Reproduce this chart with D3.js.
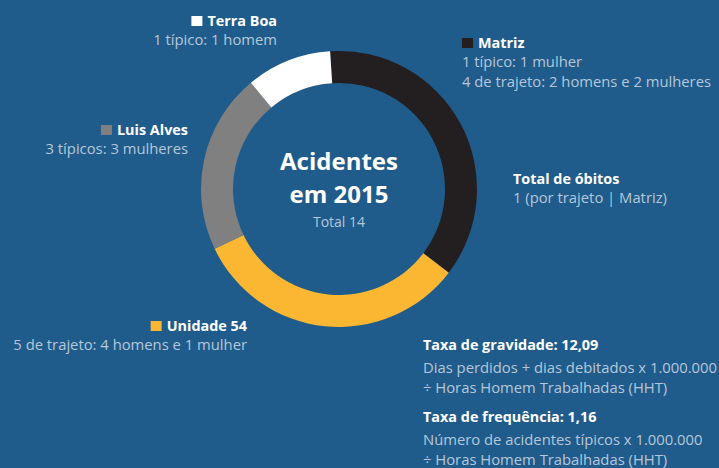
<!DOCTYPE html>
<html>
<head>
<meta charset="utf-8">
<script src="https://cdn.jsdelivr.net/npm/d3@7"></script>
<style>
  html, body { margin: 0; padding: 0; background: #1f5c8b; }
  svg { display: block; }
  .title { font-family: "Open Sans", sans-serif; font-weight: 700; fill: #fff; }
  .sub { font-family: "Open Sans", sans-serif; font-weight: 400; fill: #b7c7d9; }
</style>
</head>
<body>
<script>
// unidades e contagem de acidentes
const units = ["Matriz", "Unidade 54", "Luis Alves", "Terra Boa"];
const counts = [5, 5, 3, 1];
// tamanho de cada fatia como aparece no desenho (graus)
const arcDeg = [131, 117, 76, 36];
const colors = ["#231f20", "#fbb731", "#808080", "#ffffff"];

const details = [
  ["1 típico: 1 mulher", "4 de trajeto: 2 homens e 2 mulheres"],
  ["5 de trajeto: 4 homens e 1 mulher"],
  ["3 típicos: 3 mulheres"],
  ["1 típico: 1 homem"]
];
const total = d3.sum(counts);

const w = 719, h = 468;
const cx = 339, cy = 189;
const rOut = 138, rIn = 106;

const svg = d3.select("body").append("svg")
  .attr("width", w)
  .attr("height", h);

const pie = d3.pie()
  .sort(null)
  .value(d => d)
  .startAngle(-3.7 * Math.PI / 180)
  .endAngle((360 - 3.7) * Math.PI / 180);

const arc = d3.arc().innerRadius(rIn).outerRadius(rOut);

svg.append("g")
  .attr("transform", "translate(" + cx + "," + cy + ")")
  .selectAll("path")
  .data(pie(arcDeg))
  .join("path")
  .attr("fill", (d, i) => colors[i])
  .attr("d", arc);

// centro
const c = svg.append("g").attr("text-anchor", "middle");
c.append("text").attr("class", "title").attr("x", cx).attr("y", 170)
  .style("font-size", "24px").text("Acidentes");
c.append("text").attr("class", "title").attr("x", cx).attr("y", 203)
  .style("font-size", "24px").text("em 2015");
c.append("text").attr("class", "sub").attr("x", cx).attr("y", 227)
  .style("font-size", "14px").text("Total " + total);

// legenda: [indice, x, y, alinhamento]
const legendPos = [
  [0, 462, 48, "start"],
  [1, 247, 331, "end"],
  [2, 188, 135, "end"],
  [3, 277, 26, "end"]
];
const fsB = 14.4, fs = 14.8;

legendPos.forEach(([i, x, y, anchor]) => {
  const g = svg.append("g");
  const t = g.append("text").attr("class", "title")
    .attr("x", anchor === "start" ? x + 16 : x).attr("y", y)
    .attr("text-anchor", anchor)
    .style("font-size", fsB + "px")
    .text(units[i]);
  const tw = t.node().getComputedTextLength();
  const sx = anchor === "start" ? x : x - tw - 16;
  g.append("rect").attr("x", sx).attr("y", y - 10)
    .attr("width", 11).attr("height", 10)
    .attr("fill", colors[i]);
  details[i].forEach((line, k) => {
    g.append("text").attr("class", "sub")
      .attr("x", x).attr("y", y + 19 + 19.5 * k)
      .attr("text-anchor", anchor)
      .style("font-size", fs + "px")
      .text(line);
  });
});

// notas
const notes = [
  [513, 184, "Total de óbitos", ["1 (por trajeto | Matriz)"]],
  [423, 350, "Taxa de gravidade: 12,09", ["Dias perdidos + dias debitados x 1.000.000", "÷ Horas Homem Trabalhadas (HHT)"]],
  [423, 422, "Taxa de frequência: 1,16", ["Número de acidentes típicos x 1.000.000", "÷ Horas Homem Trabalhadas (HHT)"]]
];
notes.forEach(([x, y, head, lines]) => {
  svg.append("text").attr("class", "title").attr("x", x).attr("y", y)
    .style("font-size", fsB + "px").text(head);
  lines.forEach((line, k) => {
    svg.append("text").attr("class", "sub").attr("x", x)
      .attr("y", y + (y > 300 ? 23 : 19) + 20 * k)
      .style("font-size", fs + "px").text(line);
  });
});
</script>
</body>
</html>
